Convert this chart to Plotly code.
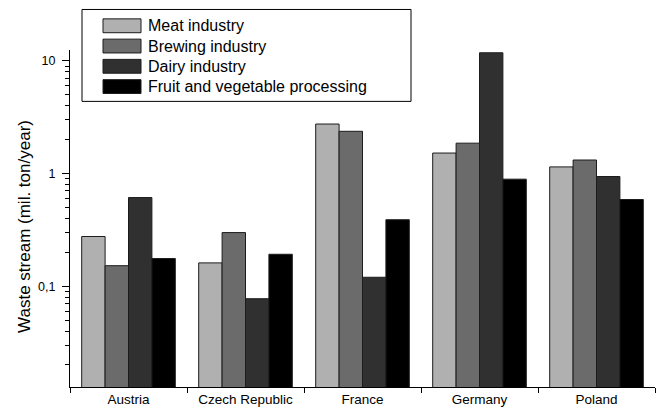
import plotly.graph_objects as go

# Waste streams per country and food-industry sector (mil. ton/year)
countries = ["Austria", "Czech Republic", "France", "Germany", "Poland"]
sectors = ["Meat industry", "Brewing industry", "Dairy industry",
           "Fruit and vegetable processing"]
meat = [0.276, 0.161, 2.75, 1.52, 1.145]
brewing = [0.152, 0.299, 2.37, 1.86, 1.318]
dairy = [0.612, 0.0774, 0.12, 11.8, 0.941]
fruit_veg = [0.176, 0.192, 0.389, 0.891, 0.588]
series = [meat, brewing, dairy, fruit_veg]

y_tick_vals = [0.1, 1, 10]
y_tick_text = ["0,1", "1", "10"]
y_minor_vals = [m * d for d in (0.01, 0.1, 1) for m in range(2, 10)]
y_log_range = [-1.895, 1.0965]

colors = ["#b0b0b0", "#6b6b6b", "#303030", "#000000"]
font_family = "Liberation Sans, Arial, sans-serif"

fig = go.Figure()
for name, vals, col in zip(sectors, series, colors):
    fig.add_trace(go.Bar(
        x=countries, y=vals, name=name,
        marker=dict(color=col, line=dict(color="#1c1c1c", width=1)),
        showlegend=False,
    ))
# empty carrier trace so the overlaid minor-tick axis is drawn
fig.add_trace(go.Scatter(x=[countries[0]], y=[None], yaxis="y2",
                         mode="markers", showlegend=False,
                         hoverinfo="skip"))

# Framed legend with wide swatches, placed above the plot area
W, H = 659, 411
ml, mr, mt, mb = 70, 4, 50, 20
pw, ph = W - ml - mr, H - mt - mb


def px_x(px):
    return (px - ml) / pw


def px_y(py):
    return (H - mb - py) / ph


shapes = [dict(type="rect", xref="paper", yref="paper",
               x0=px_x(82), x1=px_x(411), y0=px_y(102), y1=px_y(9),
               line=dict(color="black", width=1), fillcolor="white")]
annotations = []
row_centers = [25.5, 46, 66.5, 87]
for name, col, cy in zip(sectors, colors, row_centers):
    shapes.append(dict(type="rect", xref="paper", yref="paper",
                       x0=px_x(103), x1=px_x(141),
                       y0=px_y(cy + 7), y1=px_y(cy - 7),
                       line=dict(color="#1c1c1c", width=1), fillcolor=col))
    annotations.append(dict(xref="paper", yref="paper", x=px_x(146),
                            y=px_y(cy), text=name, showarrow=False,
                            xanchor="left", yanchor="middle",
                            font=dict(family=font_family, size=16,
                                      color="black")))

annotations.append(dict(xref="paper", yref="paper", x=px_x(25),
                        y=px_y(229), text="Waste stream (mil. ton/year)",
                        textangle=-90, showarrow=False,
                        xanchor="center", yanchor="middle",
                        font=dict(family=font_family, size=17,
                                  color="black")))

fig.update_layout(
    width=W, height=H,
    margin=dict(l=ml, r=mr, t=mt, b=mb),
    paper_bgcolor="white", plot_bgcolor="white",
    barmode="group", bargap=0.2, bargroupgap=0,
    font=dict(family=font_family, color="black"),
    shapes=shapes, annotations=annotations,
    yaxis2=dict(
        type="log", range=y_log_range, overlaying="y", side="left",
        tickmode="array", tickvals=y_minor_vals, ticks="outside",
        ticklen=4, tickcolor="black", showticklabels=False,
        showgrid=False, zeroline=False, showline=False,
    ),
)
fig.update_xaxes(
    type="category", showline=True, linecolor="black", linewidth=1,
    ticks="outside", ticklen=5, tickcolor="black", tickson="boundaries",
    tickfont=dict(size=13.5, color="black"), showgrid=False,
    zeroline=False,
)
fig.update_yaxes(
    selector=dict(anchor="x"),
)
fig.layout.yaxis.update(
    type="log", range=y_log_range,
    showline=True, linecolor="black", linewidth=1,
    tickmode="array", tickvals=y_tick_vals, ticktext=y_tick_text,
    ticks="outside", ticklen=7, tickcolor="black", ticklabelstandoff=4,
    tickfont=dict(size=12.5, color="black"),
    showgrid=False, zeroline=False,
)

fig.write_html("out.html")
